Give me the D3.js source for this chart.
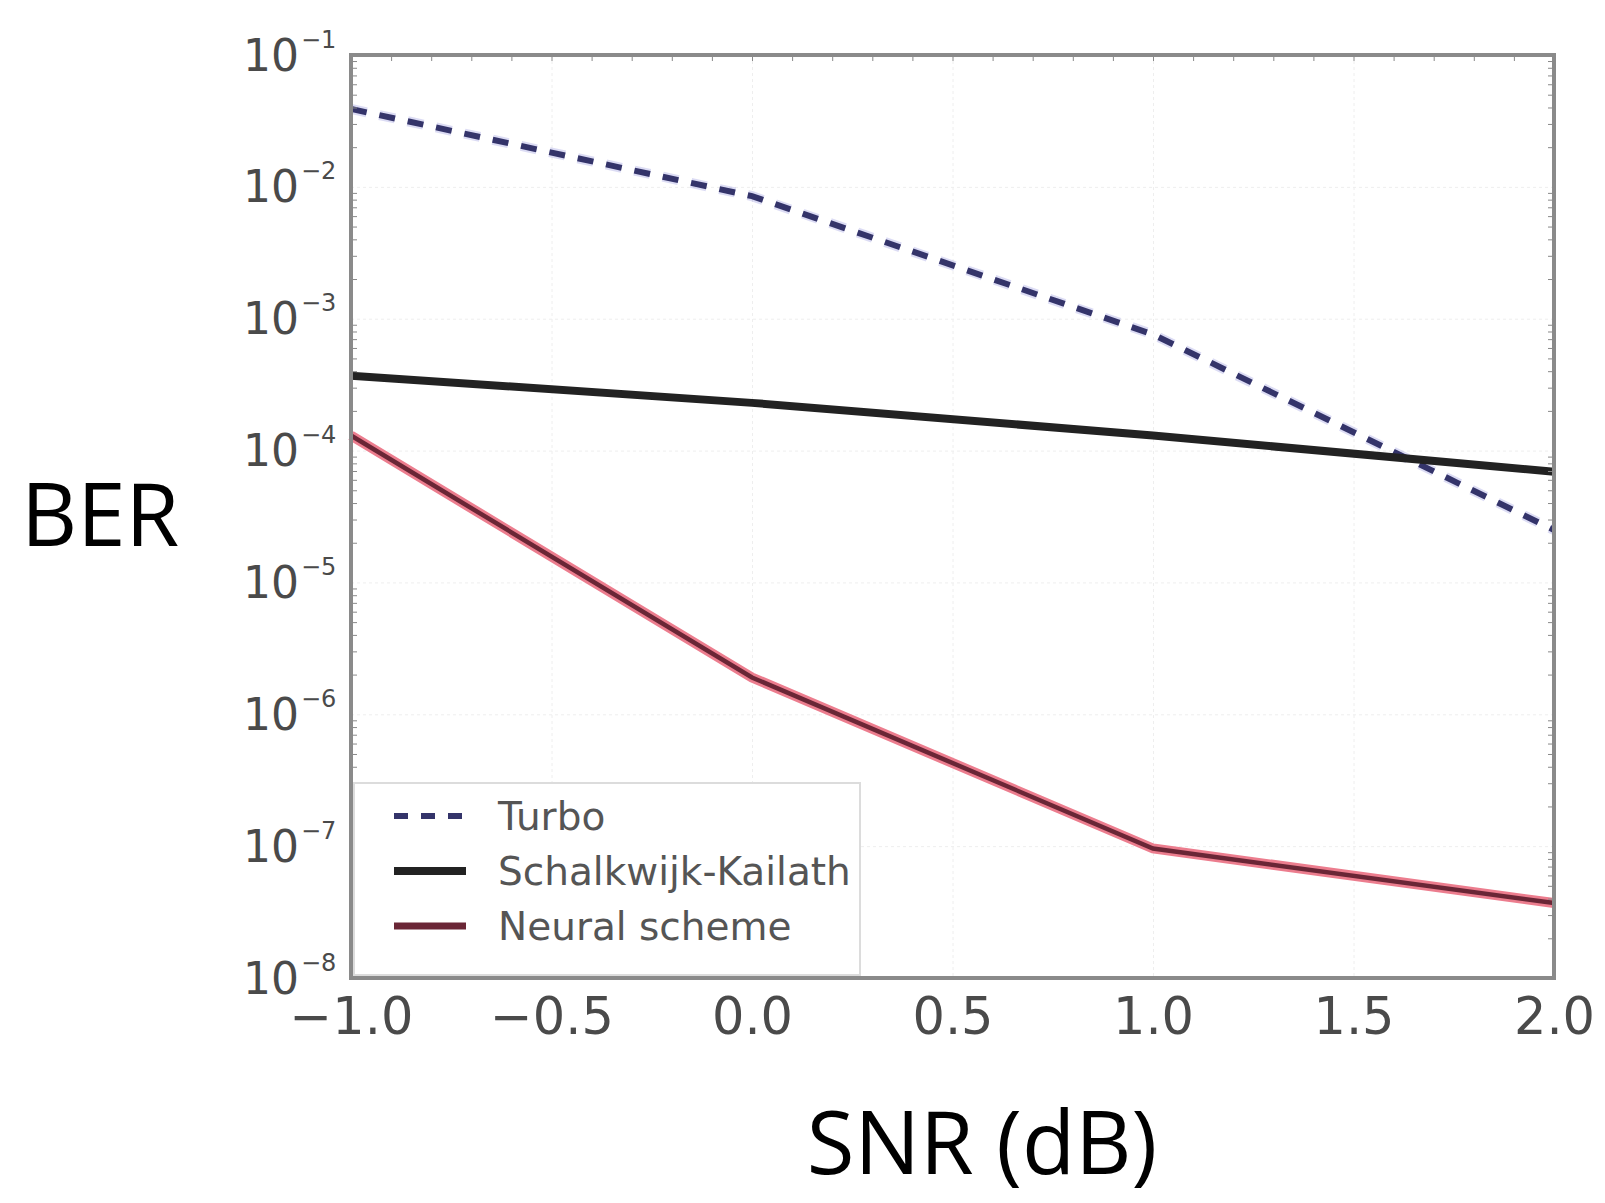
<!DOCTYPE html>
<html>
<head>
<meta charset="utf-8">
<script src="https://d3js.org/d3.v7.min.js"></script>
<style>
  body { margin: 0; background: #fff; }
  .tick text { fill: #4a4a4a; }
</style>
</head>
<body>
<div id="chart"></div>
<script>
// data
var snr = [-1.0, 0.0, 1.0, 2.0];
var turbo = [3.9e-2, 8.5e-3, 7.6e-4, 2.5e-5];
var schalkwijk = [3.7e-4, 2.3e-4, 1.3e-4, 6.9e-5];
var neural = [1.3e-4, 1.9e-6, 9.6e-8, 3.7e-8];
var xTicks = [-1.0, -0.5, 0.0, 0.5, 1.0, 1.5, 2.0];
var yTicks = [1e-1, 1e-2, 1e-3, 1e-4, 1e-5, 1e-6, 1e-7, 1e-8];
var legendNames = ["Turbo", "Schalkwijk-Kailath", "Neural scheme"];

// dimensions and margins
var margin = { top: 55, right: 51, bottom: 225, left: 351 },
    width = 1605 - margin.left - margin.right,
    height = 1203 - margin.top - margin.bottom;

var svg = d3.select("#chart")
    .append("svg")
    .attr("width", 1605)
    .attr("height", 1203)
    .append("g")
    .attr("transform", "translate(" + margin.left + "," + margin.top + ")");

var x = d3.scaleLinear().domain([-1, 2]).range([0, width]);
var y = d3.scaleLog().domain([1e-8, 1e-1]).range([height, 0]);

/*********************
 * GRIDLINES
 *********************/
svg.append("g")
    .attr("class", "grid")
    .call(d3.axisBottom(x).tickValues(xTicks).tickSize(height).tickFormat(""))
    .call(function (g) { g.select(".domain").remove(); })
    .selectAll("line")
    .attr("stroke", "#eeeeee")
    .attr("stroke-dasharray", "3,3");

svg.append("g")
    .attr("class", "grid")
    .call(d3.axisLeft(y).tickValues(yTicks).tickSize(-width).tickFormat(""))
    .call(function (g) { g.select(".domain").remove(); })
    .selectAll("line")
    .attr("stroke", "#eeeeee")
    .attr("stroke-dasharray", "3,3");

/*********************
 * LINES
 *********************/
var line = function (vals) {
    return d3.line()
        .x(function (d, i) { return x(snr[i]); })
        .y(function (d) { return y(d); })(vals);
};

svg.append("path")
    .attr("d", line(turbo))
    .attr("fill", "none")
    .attr("stroke", "#9a9ae0")
    .attr("stroke-opacity", 0.35)
    .attr("stroke-width", 10)
    .attr("stroke-dasharray", "16,13");
svg.append("path")
    .attr("d", line(turbo))
    .attr("fill", "none")
    .attr("stroke", "#34346a")
    .attr("stroke-width", 6)
    .attr("stroke-dasharray", "16,13");

svg.append("path")
    .attr("d", line(schalkwijk))
    .attr("fill", "none")
    .attr("stroke", "#222")
    .attr("stroke-width", 8);

svg.append("path")
    .attr("d", line(neural))
    .attr("fill", "none")
    .attr("stroke", "#ec7d8e")
    .attr("stroke-width", 10);
svg.append("path")
    .attr("d", line(neural))
    .attr("fill", "none")
    .attr("stroke", "#6a2636")
    .attr("stroke-width", 4.5);

/*********************
 * AXES
 *********************/
var xAxis = svg.append("g")
    .attr("transform", "translate(0," + height + ")")
    .call(d3.axisBottom(x).tickValues(xTicks).tickSize(0).tickPadding(20)
        .tickFormat(function (d) { return d3.format(".1f")(d).replace("-", "\u2212"); }));
xAxis.select(".domain").remove();
xAxis.selectAll("text")
    .style("font-family", "DejaVu Sans")
    .style("font-size", "51px");

var yAxis = svg.append("g")
    .call(d3.axisLeft(y).tickValues(yTicks).tickSize(0).tickFormat(""));
yAxis.select(".domain").remove();
yAxis.selectAll(".tick").each(function (d) {
    d3.select(this).append("text")
        .attr("x", -52)
        .attr("y", 15)
        .attr("text-anchor", "end")
        .style("font-family", "DejaVu Sans")
        .style("font-size", "44px")
        .style("fill", "#4a4a4a")
        .text("10");
    d3.select(this).append("text")
        .attr("x", -50)
        .attr("y", -8)
        .attr("text-anchor", "start")
        .style("font-family", "DejaVu Sans")
        .style("font-size", "24px")
        .style("fill", "#4a4a4a")
        .text("\u2212" + Math.round(-Math.log10(d)));
});

// inward minor ticks
var minorY = [];
yTicks.forEach(function (p) { for (var k = 2; k < 10; k++) { if (p * k < 1e-1) minorY.push(p * k); } });
svg.append("g").call(d3.axisRight(y).tickValues(minorY).tickSize(6).tickFormat(""))
    .call(function (g) { g.select(".domain").remove(); })
    .selectAll("line").attr("stroke", "#888");
svg.append("g").attr("transform", "translate(" + width + ",0)")
    .call(d3.axisLeft(y).tickValues(minorY).tickSize(6).tickFormat(""))
    .call(function (g) { g.select(".domain").remove(); })
    .selectAll("line").attr("stroke", "#888");
svg.append("g").call(d3.axisBottom(x).tickValues(d3.range(-1, 2.01, 0.1)).tickSize(6).tickFormat(""))
    .call(function (g) { g.select(".domain").remove(); })
    .selectAll("line").attr("stroke", "#888");

// frame
svg.append("rect")
    .attr("x", 0).attr("y", 0)
    .attr("width", width).attr("height", height)
    .attr("fill", "none")
    .attr("stroke", "#8a8a8a")
    .attr("stroke-width", 4);

/*********************
 * LEGEND
 *********************/
var legend = svg.append("g").attr("transform", "translate(3," + (height - 195) + ")");
legend.append("rect")
    .attr("width", 506).attr("height", 192)
    .attr("fill", "#fff")
    .attr("stroke", "#dcdcdc")
    .attr("stroke-width", 2);

var legendStyle = [
    { color: "#34346a", w: 6, dash: "14,13" },
    { color: "#222", w: 8, dash: null },
    { color: "#6a2636", w: 7, dash: null }
];

legend.selectAll("line.item")
    .data(legendNames)
    .enter()
    .append("line")
    .attr("x1", 40).attr("x2", 112)
    .attr("y1", function (d, i) { return 33 + i * 55; })
    .attr("y2", function (d, i) { return 33 + i * 55; })
    .attr("stroke", function (d, i) { return legendStyle[i].color; })
    .attr("stroke-width", function (d, i) { return legendStyle[i].w; })
    .attr("stroke-dasharray", function (d, i) { return legendStyle[i].dash; });

legend.selectAll("text")
    .data(legendNames)
    .enter()
    .append("text")
    .attr("x", 144)
    .attr("y", function (d, i) { return 33 + i * 55; })
    .attr("dy", "0.35em")
    .style("font-family", "DejaVu Sans")
    .style("font-size", "39px")
    .style("fill", "#555")
    .text(function (d) { return d; });

/*********************
 * AXIS LABELS
 *********************/
svg.append("text")
    .attr("x", 21 - margin.left)
    .attr("y", 546 - margin.top)
    .style("font-family", "Open Sans")
    .style("font-size", "87px")
    .style("fill", "#000")
    .text("BER");

svg.append("text")
    .attr("x", 982 - margin.left)
    .attr("y", 1174 - margin.top)
    .attr("text-anchor", "middle")
    .style("font-family", "Open Sans")
    .style("font-size", "87px")
    .style("fill", "#000")
    .text("SNR (dB)");
</script>
</body>
</html>
